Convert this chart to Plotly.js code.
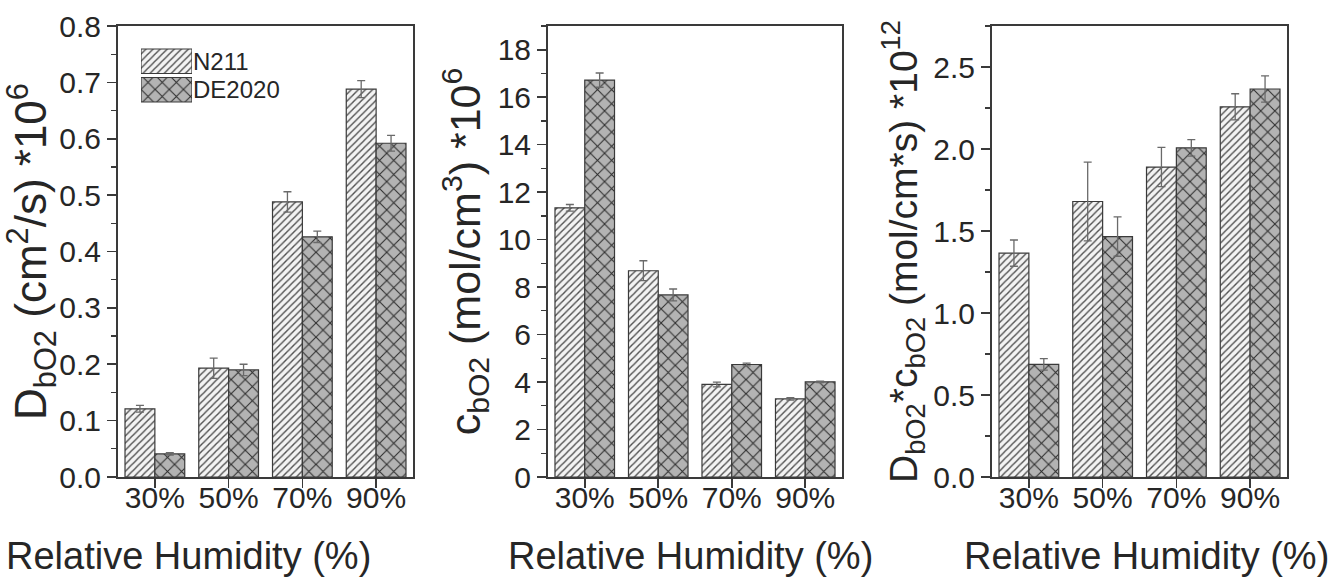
<!DOCTYPE html>
<html>
<head>
<meta charset="utf-8">
<script src="https://cdn.plot.ly/plotly-3.0.1.min.js"></script>
<style>
  html, body { margin: 0; padding: 0; background: #ffffff; }
  #chart { width: 1332px; height: 579px; }
</style>
</head>
<body>
<div id="chart"></div>
<script>
// ---------------- data ----------------
const categories = ['30%', '50%', '70%', '90%'];
const seriesNames = ['N211', 'DE2020'];

// Panel 1: D_bO2 (cm2/s) *10^6
const D_N211     = [0.121, 0.193, 0.488, 0.688];
const D_N211_err = [0.006, 0.018, 0.018, 0.015];
const D_DE       = [0.041, 0.190, 0.426, 0.592];
const D_DE_err   = [0.002, 0.010, 0.010, 0.014];

// Panel 2: c_bO2 (mol/cm3) *10^6
const C_N211     = [11.34, 8.69, 3.90, 3.29];
const C_N211_err = [0.14, 0.42, 0.10, 0.05];
const C_DE       = [16.72, 7.67, 4.74, 4.01];
const C_DE_err   = [0.30, 0.25, 0.06, 0.03];

// Panel 3: D_bO2*c_bO2 (mol/cm*s) *10^12
const DC_N211     = [1.365, 1.68, 1.89, 2.257];
const DC_N211_err = [0.08, 0.24, 0.12, 0.08];
const DC_DE       = [0.687, 1.466, 2.007, 2.366];
const DC_DE_err   = [0.035, 0.12, 0.05, 0.08];

// legend swatch length (one unit)
const legendSwatch = [1];

// ---------------- styles ----------------
const FONT = 'Liberation Sans, Arial, Helvetica, sans-serif';
const TXT = '#262626';
const AX = '#3a3a3a';

const styleN211 = {
  color: '#f3f3f3',
  line: { color: '#3a3a3a', width: 1.2 },
  pattern: { shape: '/', fgcolor: '#505050', bgcolor: '#f3f3f3', size: 5, solidity: 0.28 }
};
const styleDE = {
  color: '#b3b3b3',
  line: { color: '#3a3a3a', width: 1.2 },
  pattern: { shape: 'x', fgcolor: '#2e2e2e', bgcolor: '#b3b3b3', size: 10, solidity: 0.2 }
};

function errBar(arr) {
  return { type: 'data', array: arr, visible: true, color: '#6a6a6a', thickness: 1.3, width: 4 };
}

function barTrace(name, y, err, style, xa, ya) {
  return {
    type: 'bar', name: name, x: categories, y: y,
    error_y: errBar(err), marker: style,
    xaxis: xa, yaxis: ya, showlegend: false, hoverinfo: 'y'
  };
}

function legendTrace(name, style) {
  return {
    type: 'bar', orientation: 'h', name: name, x: legendSwatch, y: [name], width: 0.86,
    offsetgroup: 'legend', xaxis: 'x7', yaxis: 'y7', showlegend: false, hoverinfo: 'skip',
    marker: style
  };
}

const traces = [
  barTrace(seriesNames[0], D_N211, D_N211_err, styleN211, 'x', 'y'),
  barTrace(seriesNames[1], D_DE, D_DE_err, styleDE, 'x', 'y'),
  barTrace(seriesNames[0], C_N211, C_N211_err, styleN211, 'x2', 'y2'),
  barTrace(seriesNames[1], C_DE, C_DE_err, styleDE, 'x2', 'y2'),
  barTrace(seriesNames[0], DC_N211, DC_N211_err, styleN211, 'x3', 'y3'),
  barTrace(seriesNames[1], DC_DE, DC_DE_err, styleDE, 'x3', 'y3'),
  // legend swatches drawn as bars on their own small axes
  legendTrace(seriesNames[0], styleN211),
  legendTrace(seriesNames[1], styleDE)
];

// ---------------- layout ----------------
const W = 1332, H = 579;
const yDom = [1 - 477 / H, 1 - 26 / H];
const xDoms = [[118 / W, 413 / W], [548 / W, 842 / W], [992 / W, 1287 / W]];
const yRanges = [[0, 0.8], [0, 19], [0, 2.75]];
const yDticks = [0.1, 2, 0.5];
const yFormats = ['.1f', 'd', '.1f'];
const yTitles = [
  'D<sub>bO2</sub> (cm<sup>2</sup>/s) *10<sup>6</sup>',
  'c<sub>bO2</sub> (mol/cm<sup>3</sup>) *10<sup>6</sup>',
  'D<sub>bO2</sub>*c<sub>bO2</sub> (mol/cm*s) *10<sup>12</sup>'
];
const yTitleSizes = [44, 43, 39];
const xTitle = 'Relative Humidity (%)';
const xTitleCenters = [188 / W, 690 / W, 1146 / W];

const layout = {
  width: W, height: H,
  margin: { l: 0, r: 0, t: 0, b: 0 },
  paper_bgcolor: '#ffffff', plot_bgcolor: '#ffffff',
  font: { family: FONT, color: TXT, size: 30 },
  barmode: 'group', bargap: 0.19, bargroupgap: 0,
  showlegend: false,
  annotations: []
};

for (let i = 0; i < 3; i++) {
  const n = i + 1;
  const xs = n === 1 ? '' : String(n);
  const ovx = String(n + 3);
  // main bottom x axis (categories)
  layout['xaxis' + xs] = {
    domain: xDoms[i], anchor: 'y' + xs, type: 'category',
    categoryorder: 'array', categoryarray: categories,
    range: [-0.5, 3.5], fixedrange: true,
    showline: true, linecolor: AX, linewidth: 2, mirror: true,
    ticks: 'outside', ticklen: 9, tickwidth: 1.6, tickcolor: AX,
    ticklabelstandoff: -16,
    tickfont: { family: FONT, size: 30, color: TXT },
    showgrid: false, zeroline: false
  };
  // main left y axis
  layout['yaxis' + xs] = {
    domain: yDom, anchor: 'x' + xs, range: yRanges[i], fixedrange: true,
    dtick: yDticks[i], tick0: 0, tickformat: yFormats[i],
    showline: true, linecolor: AX, linewidth: 2, mirror: true,
    ticks: 'outside', ticklen: 9, tickwidth: 1.6, tickcolor: AX,
    minor: { dtick: yDticks[i] / 2, ticks: 'outside', ticklen: 5, tickwidth: 1.3, tickcolor: AX },
    tickfont: { family: FONT, size: 30, color: TXT },
    showgrid: false, zeroline: false,
    title: { text: yTitles[i], font: { family: FONT, size: yTitleSizes[i], color: TXT }, standoff: 4 }
  };
  // top x axis: inward ticks only
  layout['xaxis' + ovx] = {
    domain: xDoms[i], overlaying: 'x' + xs, anchor: 'y' + xs, side: 'top',
    range: [-0.5, 3.5], tickvals: [0, 1, 2, 3], showticklabels: false,
    ticks: 'inside', ticklen: 9, tickwidth: 1.6, tickcolor: AX,
    showline: false, showgrid: false, zeroline: false, fixedrange: true
  };
  // right y axis: inward ticks only
  layout['yaxis' + ovx] = {
    domain: yDom, overlaying: 'y' + xs, anchor: 'x' + xs, side: 'right',
    range: yRanges[i], dtick: yDticks[i], tick0: 0, showticklabels: false,
    ticks: 'inside', ticklen: 9, tickwidth: 1.6, tickcolor: AX,
    minor: { dtick: yDticks[i] / 2, ticks: 'inside', ticklen: 5, tickwidth: 1.3, tickcolor: AX },
    showline: false, showgrid: false, zeroline: false, fixedrange: true
  };
  layout.annotations.push({
    text: xTitle, xref: 'paper', yref: 'paper',
    x: xTitleCenters[i], y: 1 - 556 / H, xanchor: 'center', yanchor: 'middle',
    showarrow: false, font: { family: FONT, size: 38, color: TXT }
  });
}

// legend axes
layout.xaxis7 = {
  domain: [141 / W, 192 / W], anchor: 'y7', range: [0, 1],
  visible: false, fixedrange: true
};
layout.yaxis7 = {
  domain: [1 - 104 / H, 1 - 47 / H], anchor: 'x7', side: 'right',
  type: 'category', categoryorder: 'array', categoryarray: seriesNames,
  tickmode: 'array', tickvals: seriesNames, ticktext: seriesNames,
  range: [1.5, -0.5], showline: false, ticks: '', showgrid: false, zeroline: false,
  tickfont: { family: FONT, size: 24, color: TXT }, ticklabelstandoff: 0, fixedrange: true
};

Plotly.newPlot('chart', traces, layout, { displayModeBar: false, staticPlot: true });
</script>
</body>
</html>
